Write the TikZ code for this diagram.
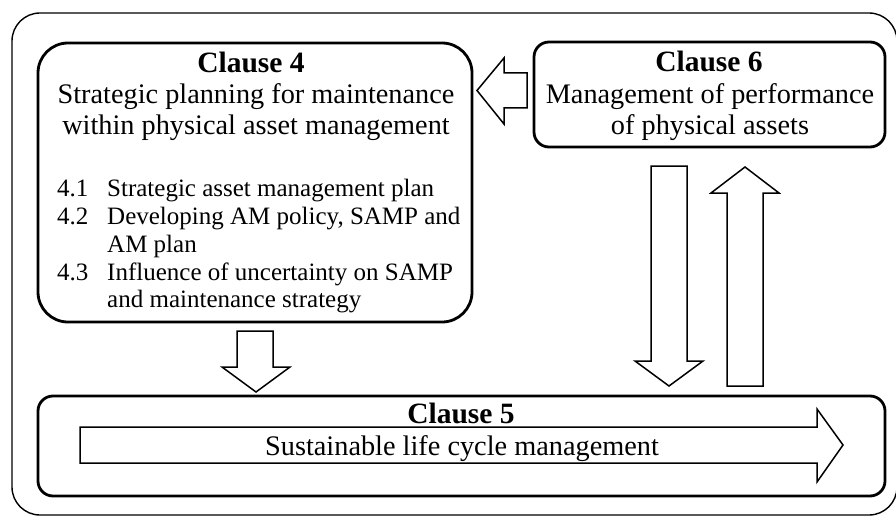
\documentclass[tikz,border=0pt]{standalone}
\usepackage{fontspec}
\setmainfont{Liberation Serif}
\begin{document}
\begin{tikzpicture}[x=1pt,y=-1pt,
  clausebox/.style={draw=black,line width=2.8pt,rectangle,inner sep=0pt,outer sep=0pt},
  frame/.style={draw=black,line width=1.4pt},
  blockarrow/.style={draw=black,line width=1.5pt,fill=white,line join=miter},
  ttl/.style={anchor=base,inner sep=0pt,font=\fontsize{28.3}{31}\selectfont},
  hdr/.style={anchor=base,inner sep=0pt,font=\fontsize{29.5}{31}\selectfont\bfseries},
  item/.style={anchor=base west,inner sep=0pt,font=\fontsize{25}{28}\selectfont}]
\useasboundingbox (0,0) rectangle (896,516);
\clip (0,0) rectangle (896,516);
% outer frame
\draw[frame,rounded corners=28pt] (12,13) rectangle (897,515);
% clause boxes
\node[clausebox,rounded corners=30pt,minimum width=434pt,minimum height=279pt] (c4) at (255,182.5) {};
\node[clausebox,rounded corners=15pt,minimum width=351pt,minimum height=105pt] (c6) at (709.5,94.5) {};
\node[clausebox,rounded corners=15pt,minimum width=847pt,minimum height=100pt] (c5) at (461.5,446) {};
% block arrows
\draw[blockarrow] (527,73) -- (504,73) -- (504,58) -- (477,90.5) -- (504,124) -- (504,108) -- (527,108) -- cycle;
\draw[blockarrow] (651,166) -- (687,166) -- (687,361) -- (703,361) -- (669,386) -- (635,361) -- (651,361) -- cycle;
\draw[blockarrow] (727,386) -- (727,193) -- (711,193) -- (745,167) -- (779,193) -- (763,193) -- (763,386) -- cycle;
\draw[blockarrow] (237,331) -- (273,331) -- (273,367) -- (290,367) -- (256,392) -- (222,367) -- (237,367) -- cycle;
\draw[blockarrow] (80,427) -- (817,427) -- (817,409) -- (843,445) -- (817,482) -- (817,463) -- (80,463) -- cycle;
% clause 4 text
\node[hdr] (c4h) at (251,73) {Clause 4};
\node[ttl] (c4a) at (256,103) {Strategic planning for maintenance};
\node[ttl] (c4b) at (256,134) {within physical asset management};
\node[item] (n1) at (57,196) {4.1};
\node[item] (t1) at (107,196) {Strategic asset management plan};
\node[item] (n2) at (57,224) {4.2};
\node[item] (t2) at (107,224) {Developing AM policy, SAMP and};
\node[item] (t2b) at (107,252) {AM plan};
\node[item] (n3) at (57,280) {4.3};
\node[item] (t3) at (107,280) {Influence of uncertainty on SAMP};
\node[item] (t3b) at (107,307) {and maintenance strategy};
% clause 6 text
\node[hdr] (c6h) at (709,72) {Clause 6};
\node[ttl] (c6a) at (710,103) {Management of performance};
\node[ttl] (c6b) at (710,134) {of physical assets};
% clause 5 text
\node[hdr] (c5h) at (461,423) {Clause 5};
\node[ttl] (c5a) at (462,455) {Sustainable life cycle management};
\end{tikzpicture}
\end{document}
